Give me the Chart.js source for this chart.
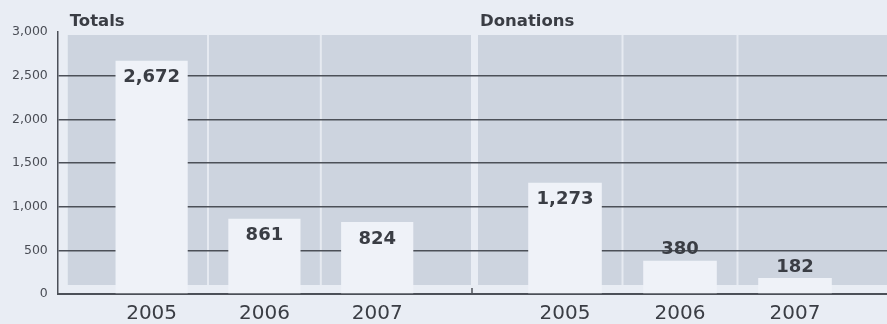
<!DOCTYPE html>
<html>
<head>
<meta charset="utf-8">
<script src="https://cdn.jsdelivr.net/npm/chart.js@4.4.1/dist/chart.umd.min.js"></script>
<style>
  body { margin: 0; background: #e9edf4; }
  #wrap { position: relative; width: 887px; height: 324px; }
  #totalsBox { position: absolute; left: 0; top: 0; width: 476px; height: 324px; }
  #donationsBox { position: absolute; left: 476px; top: 0; width: 411px; height: 324px; }
</style>
</head>
<body>
<div id="wrap">
  <div id="totalsBox"><canvas id="totalsChart" width="476" height="324"></canvas></div>
  <div id="donationsBox"><canvas id="donationsChart" width="411" height="324"></canvas></div>
</div>
<script>
const years = ["2005", "2006", "2007"];
const totals = [2672, 861, 824];
const donations = [1273, 380, 182];
const yTicks = [0, 500, 1000, 1500, 2000, 2500, 3000];

const FONT = "'DejaVu Sans', sans-serif";
const INK = "#3a3d44";
const RULE = "#4c5058";

// grey backdrop, light column separators and the panel title
const panelPlugin = {
  id: "panel",
  beforeDraw(chart, args, opts) {
    const { ctx, chartArea, scales } = chart;
    const top = scales.y.getPixelForValue(3000) + 3;
    const bottom = chartArea.bottom - 9;
    const left = chartArea.left + opts.inset[0];
    const right = chartArea.right - opts.inset[1];
    ctx.save();
    ctx.fillStyle = "#cdd4df";
    ctx.fillRect(left, top, right - left, bottom - top);
    ctx.strokeStyle = "#e6eaf1";
    ctx.lineWidth = 2;
    for (let i = 0; i < years.length - 1; i++) {
      const x = scales.x.getPixelForValue(i + 0.5);
      ctx.beginPath();
      ctx.moveTo(x, top);
      ctx.lineTo(x, bottom);
      ctx.stroke();
    }
    ctx.fillStyle = INK;
    ctx.font = "bold 16.5px " + FONT;
    ctx.textBaseline = "alphabetic";
    ctx.fillText(opts.title, left + 2, 26);
    ctx.restore();
  },
  afterDraw(chart, args, opts) {
    if (!opts.midTick) return;
    // small tick where the two panels meet
    const { ctx, chartArea } = chart;
    ctx.save();
    ctx.strokeStyle = RULE;
    ctx.lineWidth = 1.5;
    ctx.beginPath();
    ctx.moveTo(chartArea.right - 4, chartArea.bottom);
    ctx.lineTo(chartArea.right - 4, chartArea.bottom - 6);
    ctx.stroke();
    ctx.restore();
  }
};

// value written inside the top of each bar, or just above short ones
const valuePlugin = {
  id: "values",
  afterDatasetsDraw(chart) {
    const { ctx } = chart;
    const meta = chart.getDatasetMeta(0);
    const points = chart.data.datasets[0].data;
    ctx.save();
    ctx.font = "bold 18px " + FONT;
    ctx.fillStyle = INK;
    ctx.textAlign = "center";
    ctx.textBaseline = "middle";
    meta.data.forEach((bar, i) => {
      const tall = bar.base - bar.y > 40;
      const y = tall ? bar.y + 17 : bar.y - 11;
      ctx.fillText(points[i].y.toLocaleString("en-US"), bar.x, y);
    });
    ctx.restore();
  }
};

function makeChart(canvasId, title, values, xMin, xMax, showY, inset, midTick, padLeft) {
  const ctx = document.getElementById(canvasId).getContext("2d");
  return new Chart(ctx, {
    type: "bar",
    data: {
      datasets: [
        {
          data: values.map((v, i) => ({ x: i, y: v })),
          backgroundColor: "#eff2f8",
          borderWidth: 0,
          barPercentage: 0.8,
          categoryPercentage: 0.8,
        },
      ],
    },
    options: {
      responsive: false,
      animation: false,
      layout: { padding: { top: 32, bottom: 0, left: padLeft, right: 0 } },
      plugins: {
        legend: { display: false },
        tooltip: { enabled: false },
        panel: { title: title, inset: inset, midTick: midTick },
      },
      scales: {
        x: {
          type: "linear",
          min: xMin,
          max: xMax,
          offset: false,
          z: 1,
          afterBuildTicks: (axis) => {
            axis.ticks = years.map((_, i) => ({ value: i }));
          },
          afterFit: (axis) => {
            axis.height = 30;
          },
          ticks: {
            callback: (v) => years[v],
            font: { family: FONT, size: 20 },
            color: INK,
            padding: 8,
            maxRotation: 0,
            autoSkip: false,
          },
          grid: { display: false, drawTicks: false, offset: false },
          border: { display: true, color: RULE, width: 2 },
        },
        y: {
          min: 0,
          max: 3000,
          afterBuildTicks: (axis) => {
            axis.ticks = yTicks.map((v) => ({ value: v }));
          },
          ticks: {
            display: showY,
            callback: (v) => v.toLocaleString("en-US"),
            font: { family: FONT, size: 12.5 },
            color: "#4a4d55",
            padding: 10,
          },
          grid: {
            color: (c) => (c.tick.value > 0 && c.tick.value < 3000 ? RULE : "rgba(0,0,0,0)"),
            lineWidth: 1.5,
            drawTicks: false,
          },
          border: { display: showY, color: RULE, width: 1.5 },
        },
      },
    },
    plugins: [panelPlugin, valuePlugin],
  });
}

makeChart("totalsChart", "Totals", totals, -0.832, 2.876, true, [10, 5], true, 2);
makeChart("donationsChart", "Donations", donations, -0.774, 2.8, false, [2, 0], false, 0);
</script>
</body>
</html>
